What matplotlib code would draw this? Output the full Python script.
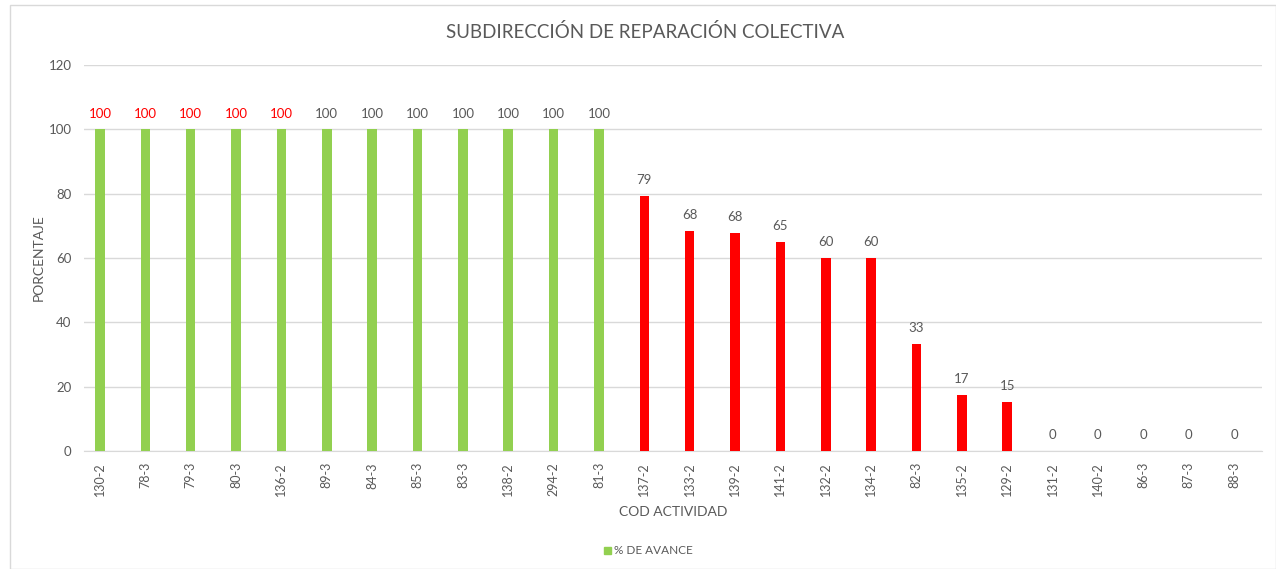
import matplotlib.pyplot as plt
from matplotlib.patches import Rectangle, Patch

plt.rcParams['font.family'] = ['Lato', 'DejaVu Sans']

codes = ['130-2', '78-3', '79-3', '80-3', '136-2', '89-3', '84-3', '85-3', '83-3',
         '138-2', '294-2', '81-3', '137-2', '133-2', '139-2', '141-2', '132-2',
         '134-2', '82-3', '135-2', '129-2', '131-2', '140-2', '86-3', '87-3', '88-3']
avance = [100, 100, 100, 100, 100, 100, 100, 100, 100, 100, 100, 100,
          79.3, 68.5, 67.8, 65, 60, 60, 33.3, 17.4, 15.2, 0, 0, 0, 0, 0]
# data labels drawn in red in the reference
red_labels = ['130-2', '78-3', '79-3', '80-3', '136-2']

green = '#92d050'
red = '#ff0000'
gray = '#595959'

n = len(avance)

fig = plt.figure(figsize=(12.76, 5.69), dpi=100)
ax = fig.add_axes([84 / 1276, 1 - 451 / 569, 1178 / 1276, 386 / 569])

colors = [green if v >= 100 else red for v in avance]
x = list(range(n))
ax.bar(x, avance, width=0.21, color=colors, zorder=3)

for xi, v, c in zip(x, avance, codes):
    lc = red if c in red_labels else gray
    ax.text(xi, v + 3, f'{v:.0f}', ha='center', va='bottom', fontsize=9.5, color=lc)

ax.set_xlim(-0.353, n - 1 + 0.617)
ax.set_ylim(0, 120)
ax.set_yticks(range(0, 121, 20))
ax.set_xticks(x)
ax.set_xticklabels(codes, rotation=90, fontsize=9, color=gray)
ax.tick_params(axis='y', labelsize=9.5, colors=gray, length=0, pad=9)
ax.tick_params(axis='x', length=0, pad=8)
ax.grid(axis='y', color='#d9d9d9', linewidth=1, zorder=0)
for s in ['left', 'right', 'top']:
    ax.spines[s].set_visible(False)
ax.spines['bottom'].set_color('#d9d9d9')

fig.text(645 / 1276, 1 - 32 / 569, 'SUBDIRECCIÓN DE REPARACIÓN COLECTIVA',
         ha='center', va='center', fontsize=13.5, color=gray)
ax.set_ylabel('PORCENTAJE', fontsize=10, color=gray, labelpad=3)
ax.set_xlabel('COD ACTIVIDAD', fontsize=10, color=gray, labelpad=7)

ax.legend(handles=[Patch(color=green, label='% DE AVANCE')], loc='center',
          bbox_to_anchor=(0.479, -0.259), frameon=False, fontsize=8.5,
          handlelength=0.6, handleheight=0.6, handletextpad=0.3, labelcolor=gray)

fig.patches.append(Rectangle((10 / 1276, 0), 1 - 10 / 1276, 1 - 5 / 569,
                             transform=fig.transFigure, fill=False,
                             edgecolor='#d9d9d9', linewidth=1))

fig.savefig('out.png', dpi=100)
